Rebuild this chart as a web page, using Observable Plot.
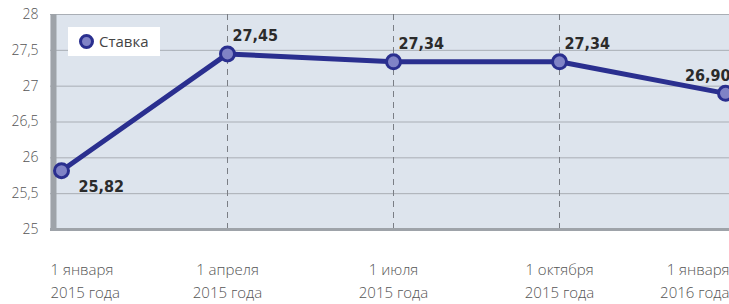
<!DOCTYPE html>
<html>
<head>
<meta charset="utf-8">
<script src="https://cdn.jsdelivr.net/npm/d3@7"></script>
<script src="https://cdn.jsdelivr.net/npm/@observablehq/plot@0.6"></script>
<style>
  html, body { margin: 0; padding: 0; background: #fff; }
  #chart { position: relative; width: 729px; height: 304px; }
  #legend { position: absolute; left: 68px; top: 27px; width: 92px; height: 29px; background: #fff;
    font-family: "Open Sans", sans-serif; font-size: 15px; color: #444; }
  #legend .dot { position: absolute; left: 11px; top: 7px; width: 9px; height: 9px; border-radius: 50%;
    background: #8083c6; border: 3px solid #2a2f8f; }
  #legend .lbl { position: absolute; left: 31px; top: 4px; }
  .vlabel text { font-family: "Liberation Sans Narrow", "DejaVu Sans Condensed", "Liberation Sans", sans-serif; font-stretch: condensed; }
</style>
</head>
<body>
<div id="chart"></div>
<script>
const dates = ["1 января\n2015 года", "1 апреля\n2015 года", "1 июля\n2015 года", "1 октября\n2015 года", "1 января\n2016 года"];
const rates = [25.82, 27.45, 27.34, 27.34, 26.90];
const rateLabels = ["25,82", "27,45", "27,34", "27,34", "26,90"];
const yTicks = [25, 25.5, 26, 26.5, 27, 27.5, 28];
const seriesName = "Ставка";

const data = rates.map((v, i) => ({i, v, date: dates[i], label: rateLabels[i]}));
const fmt = v => String(v).replace(".", ",");

const navy = "#2a2f8f";
const vl = {x: "i", y: "v", text: "label", fontWeight: "bold", fontSize: 16, fill: "#2b2b2b", className: "vlabel"};
const xl = {x: "i", y: 25, text: "date", dy: 30, lineAnchor: "top", lineHeight: 1.5, fill: "#555", fontSize: 15, fontWeight: 300};

const plot = Plot.plot({
  width: 729,
  height: 304,
  marginLeft: 50,
  marginRight: 0,
  marginTop: 14,
  marginBottom: 75,
  style: {fontFamily: '"Open Sans", sans-serif', fontSize: "14px", color: "#555", background: "transparent", overflow: "visible"},
  x: {domain: [-0.0663, 4.024], axis: null},
  y: {domain: [25, 28], axis: null},
  marks: [
    Plot.frame({fill: "#dde4ed", stroke: null}),
    Plot.ruleY(yTicks, {stroke: "#a9aeb5", strokeWidth: 1}),
    Plot.ruleX(data.slice(1, 4), {x: "i", stroke: "#7a7e85", strokeWidth: 1, strokeDasharray: "6,5"}),
    Plot.ruleY([25], {stroke: "#9ea3a9", strokeWidth: 3}),
    Plot.ruleX([-0.0663], {stroke: "#9ea3a9", strokeWidth: 6, dx: 3}),
    Plot.axisY({ticks: yTicks, tickSize: 0, tickPadding: 12, tickFormat: fmt, label: null, fontSize: 14, fill: "#555", fontWeight: 300}),
    Plot.line(data, {x: "i", y: "v", stroke: navy, strokeWidth: 5, strokeLinejoin: "round"}),
    Plot.dot(data, {x: "i", y: "v", r: 7, fill: "#8083c6", stroke: navy, strokeWidth: 3}),
    // value labels
    Plot.text(data.slice(0, 1), {...vl, dx: 17, dy: 16, textAnchor: "start"}),
    Plot.text(data.slice(1, 4), {...vl, dx: 5, dy: -18, textAnchor: "start"}),
    Plot.text(data.slice(4), {...vl, dx: 5, dy: -17, textAnchor: "end"}),
    // x labels
    Plot.text(data.slice(0, 1), {...xl, dx: -11, textAnchor: "start"}),
    Plot.text(data.slice(1, 4), {...xl, textAnchor: "middle"}),
    Plot.text(data.slice(4), {...xl, dx: 4, textAnchor: "end"})
  ]
});
document.getElementById("chart").appendChild(plot);
const leg = document.createElement("div");
leg.id = "legend";
leg.innerHTML = '<span class="dot"></span><span class="lbl"></span>';
leg.querySelector(".lbl").textContent = seriesName;
document.getElementById("chart").appendChild(leg);
</script>
</body>
</html>
